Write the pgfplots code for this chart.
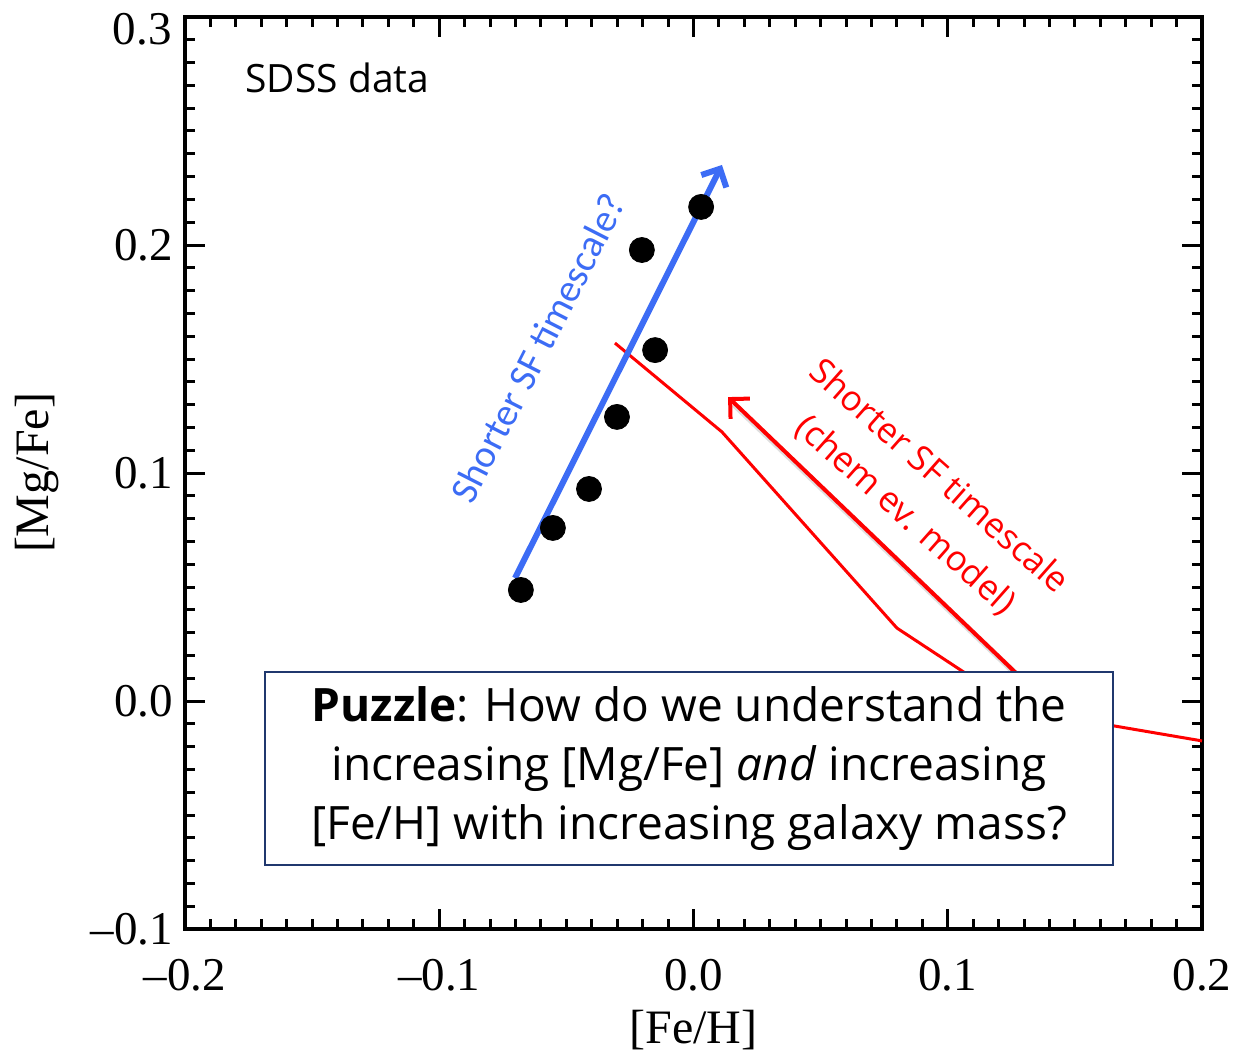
\documentclass[border=0pt]{standalone}
\usepackage{fontspec}
\setmainfont{Liberation Serif}
\newfontfamily\opensans{Open Sans}
\newfontfamily\carlito{Carlito}
\usepackage{pgfplots}
\pgfplotsset{compat=1.18}
\usetikzlibrary{arrows.meta}
\definecolor{myblue}{RGB}{60,108,245}
\definecolor{myred}{RGB}{255,0,0}
\definecolor{boxblue}{RGB}{32,56,110}
\begin{document}
\begin{tikzpicture}
\useasboundingbox (-92.5pt,-61pt) rectangle (525pt,464.5pt);
\begin{axis}[
  at={(0,0)}, anchor=south west,
  scale only axis, width=508.5pt, height=456pt,
  xmin=-0.2, xmax=0.2, ymin=-0.1, ymax=0.3,
  xtick={-0.2,-0.1,0,0.1,0.2},
  xticklabels={\textendash0.2,\textendash0.1,0.0,0.1,0.2},
  ytick={-0.1,0,0.1,0.2,0.3},
  yticklabels={\textendash0.1,0.0,0.1,0.2,},
  minor tick num=9,
  tick align=inside,
  xtick pos=both, ytick pos=both,
  xticklabel pos=lower, yticklabel pos=left,
  major tick length=10pt, minor tick length=5pt,
  every tick/.style={black, line width=1.5pt},
  axis line style={line width=2pt},
  tick label style={font=\fontsize{23.5}{23.5}\selectfont},
  xticklabel style={yshift=-11.5pt},
  yticklabel style={xshift=-2.5pt},
  xlabel={[Fe/H]}, ylabel={[Mg/Fe]},
  label style={font=\fontsize{24}{24}\selectfont},
  xlabel style={yshift=-2.5pt},
  ylabel style={yshift=9pt},
  clip=false,
]
% chemical evolution model line
\addplot[myred, line width=1.5pt, mark=none] coordinates {
  (-0.0309,0.157) (0.0112,0.118) (0.080,0.032) (0.129,-0.004) (0.200,-0.0175)
};
% red arrow shadow
\addplot[black!25, opacity=0.5, line width=3pt, mark=none] coordinates {
  (0.1295,0.0090) (0.0160,0.1300)
};
% red arrow
\addplot[myred, line width=2pt, mark=none, -{Straight Barb[length=7pt,width=14pt,line width=2pt]}] coordinates {
  (0.1285,0.0105) (0.0136,0.1333)
};
% blue arrow
\addplot[myblue, line width=3pt, mark=none, -{Straight Barb[length=7pt,width=14pt,line width=3pt]}] coordinates {
  (-0.0702,0.0539) (0.0112,0.2351)
};
% SDSS data points
\addplot[only marks, mark=*, mark size=6.25pt, black] coordinates {
  (-0.0679,0.0487) (-0.0553,0.0759) (-0.0411,0.0930) (-0.0301,0.1246)
  (-0.0151,0.1539) (-0.0203,0.1978) (0.0030,0.2167)
};
\node[anchor=east, inner sep=0pt, font=\fontsize{23.5}{23.5}\selectfont] at (axis cs:-0.2,0.3) [xshift=-6.5pt, yshift=-6pt] {0.3};
\node[anchor=base west, inner sep=0pt, font=\opensans\fontsize{19.5}{19.5}\selectfont] at (axis cs:-0.1764,0.2667) {SDSS data};
\node[rotate=63, myblue, inner sep=0pt, font=\carlito\fontsize{19.5}{19.5}\selectfont] at (axis cs:-0.0612,0.155) {Shorter SF timescale?};
\node[rotate=-41.5, myred, inner sep=0pt, align=center, font=\opensans\fontsize{17.5}{25.5}\selectfont] at (axis cs:0.0899,0.0899) {Shorter SF timescale\\(chem ev. model)};
\node[draw=boxblue, line width=1pt, fill=white, minimum width=424pt, minimum height=96.5pt, align=center, inner sep=0pt, font=\opensans\fontsize{23}{29.5}\selectfont] at (axis cs:-0.00175,-0.0296) {\textbf{Puzzle}: How do we understand the\\increasing [Mg/Fe] \textit{and} increasing\\{}[Fe/H] with increasing galaxy mass?};
\end{axis}
\end{tikzpicture}
\end{document}
